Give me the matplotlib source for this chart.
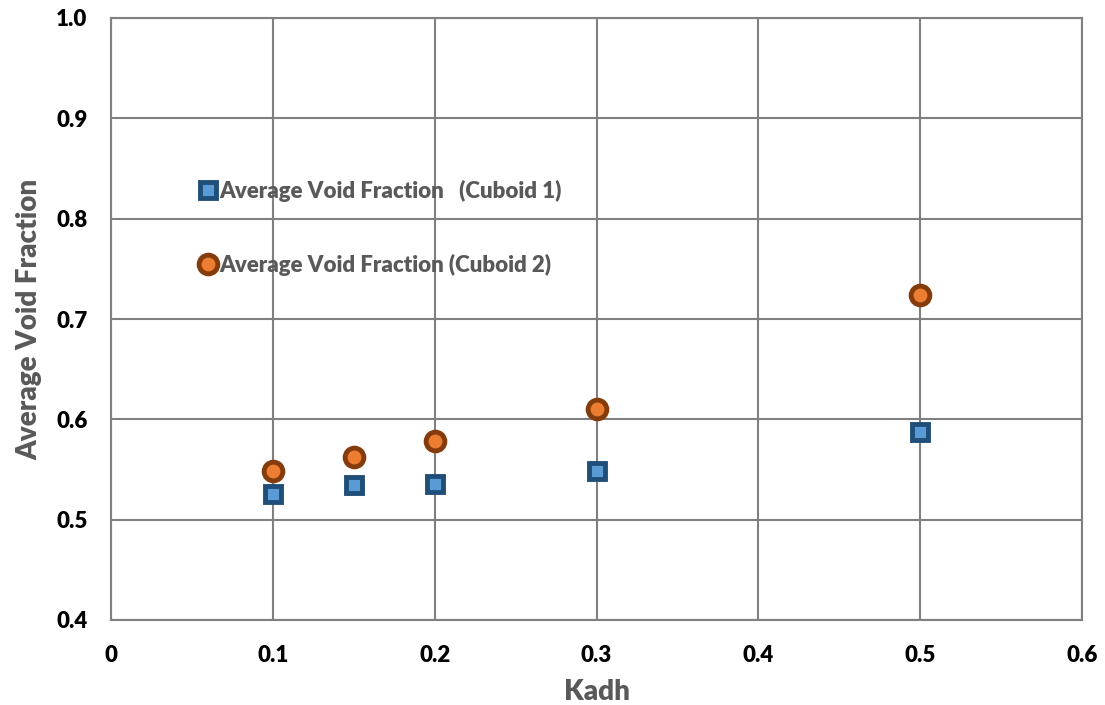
import numpy as np
import matplotlib.pyplot as plt

kadh = [0.1, 0.15, 0.2, 0.3, 0.5]
void_cuboid1 = [0.526, 0.535, 0.536, 0.549, 0.587]
void_cuboid2 = [0.549, 0.562, 0.578, 0.610, 0.724]

xticks = [0, 0.1, 0.2, 0.3, 0.4, 0.5, 0.6]
xtick_labels = ['0', '0.1', '0.2', '0.3', '0.4', '0.5', '0.6']
yticks = [0.4, 0.5, 0.6, 0.7, 0.8, 0.9, 1.0]

plt.rcParams['font.family'] = ['Lato', 'DejaVu Sans']

fig = plt.figure(figsize=(11.05, 7.05), dpi=100)
ax = fig.add_axes([111 / 1105, 1 - 620 / 705, 971 / 1105, 602 / 705])

ax.plot(kadh, void_cuboid1, linestyle='none', marker='s', markersize=12,
        markerfacecolor='#5B9BD5', markeredgecolor='#1F4E79', markeredgewidth=3.5,
        label='Average Void Fraction   (Cuboid 1)', zorder=3)
ax.plot(kadh, void_cuboid2, linestyle='none', marker='o', markersize=13.5,
        markerfacecolor='#ED7D31', markeredgecolor='#843C0C', markeredgewidth=3.5,
        label='Average Void Fraction (Cuboid 2)', zorder=3)

ax.set_xlim(0, 0.6)
ax.set_ylim(0.4, 1.0)
ax.set_xticks(xticks)
ax.set_xticklabels(xtick_labels)
ax.set_yticks(yticks)
ax.set_yticklabels(['%.1f' % v for v in yticks])
ax.grid(True, color='#808080', linewidth=1.5)
ax.set_axisbelow(True)
ax.tick_params(length=0, labelsize=16, pad=17)
ax.tick_params(axis='x', pad=18)
for lab in ax.get_xticklabels() + ax.get_yticklabels():
    lab.set_fontweight('heavy')
for s in ax.spines.values():
    s.set_color('#808080')
    s.set_linewidth(1.5)

ax.set_xlabel('Kadh', fontsize=20, fontweight='heavy', color='#595959', labelpad=9)
ax.set_ylabel('Average Void Fraction', fontsize=20, fontweight='heavy', color='#595959', labelpad=10)

leg = ax.legend(loc='upper left', bbox_to_anchor=(0.077, 0.75), frameon=False,
                fontsize=16, labelspacing=2.35, handletextpad=0.0,
                handlelength=1.0, borderpad=0)
for t in leg.get_texts():
    t.set_color('#595959')
    t.set_fontweight('heavy')

fig.savefig('out.png', dpi=100)
